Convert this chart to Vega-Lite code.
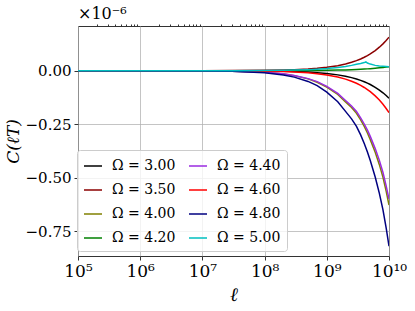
{
  "$schema": "https://vega.github.io/schema/vega-lite/v6.json",
  "width": 311,
  "height": 230,
  "autosize": {"type": "none"},
  "padding": {"left": 78, "top": 26, "right": 26, "bottom": 55},
  "title": {"text": "×10⁻⁶", "anchor": "start", "frame": "group", "offset": 2, "fontSize": 16, "fontWeight": "normal", "font": "DejaVu Serif", "color": "#000"},
  "data": {"values": [
    {"ell":1e5,"omega":"3.00","C":0},{"ell":1e7,"omega":"3.00","C":-0.0001},{"ell":3e7,"omega":"3.00","C":-0.0004},{"ell":1e8,"omega":"3.00","C":-0.0013},{"ell":2e8,"omega":"3.00","C":-0.0026},{"ell":3e8,"omega":"3.00","C":-0.0039},{"ell":5e8,"omega":"3.00","C":-0.0065},{"ell":7e8,"omega":"3.00","C":-0.009},{"ell":1e9,"omega":"3.00","C":-0.0129},{"ell":1.5e9,"omega":"3.00","C":-0.0194},{"ell":2e9,"omega":"3.00","C":-0.0258},{"ell":2.5e9,"omega":"3.00","C":-0.0323},{"ell":3e9,"omega":"3.00","C":-0.0387},{"ell":3.5e9,"omega":"3.00","C":-0.0452},{"ell":4e9,"omega":"3.00","C":-0.0516},{"ell":4.5e9,"omega":"3.00","C":-0.058},{"ell":5e9,"omega":"3.00","C":-0.0645},{"ell":6e9,"omega":"3.00","C":-0.0774},{"ell":7e9,"omega":"3.00","C":-0.0903},{"ell":8e9,"omega":"3.00","C":-0.1032},{"ell":9e9,"omega":"3.00","C":-0.1161},{"ell":1e10,"omega":"3.00","C":-0.129},
    {"ell":1e5,"omega":"3.50","C":0},{"ell":1e7,"omega":"3.50","C":0.0002},{"ell":3e7,"omega":"3.50","C":0.0005},{"ell":1e8,"omega":"3.50","C":0.0016},{"ell":2e8,"omega":"3.50","C":0.0031},{"ell":3e8,"omega":"3.50","C":0.0047},{"ell":5e8,"omega":"3.50","C":0.0079},{"ell":7e8,"omega":"3.50","C":0.011},{"ell":1e9,"omega":"3.50","C":0.0157},{"ell":1.5e9,"omega":"3.50","C":0.0236},{"ell":2e9,"omega":"3.50","C":0.0314},{"ell":2.5e9,"omega":"3.50","C":0.0393},{"ell":3e9,"omega":"3.50","C":0.0471},{"ell":3.5e9,"omega":"3.50","C":0.055},{"ell":4e9,"omega":"3.50","C":0.0628},{"ell":4.5e9,"omega":"3.50","C":0.0707},{"ell":5e9,"omega":"3.50","C":0.0785},{"ell":6e9,"omega":"3.50","C":0.0942},{"ell":7e9,"omega":"3.50","C":0.11},{"ell":8e9,"omega":"3.50","C":0.1256},{"ell":9e9,"omega":"3.50","C":0.1413},{"ell":1e10,"omega":"3.50","C":0.157},
    {"ell":1e5,"omega":"4.00","C":0},{"ell":1e7,"omega":"4.00","C":-0.0008},{"ell":3e7,"omega":"4.00","C":-0.0023},{"ell":1e8,"omega":"4.00","C":-0.0077},{"ell":2e8,"omega":"4.00","C":-0.0153},{"ell":3e8,"omega":"4.00","C":-0.023},{"ell":5e8,"omega":"4.00","C":-0.038},{"ell":7e8,"omega":"4.00","C":-0.054},{"ell":1e9,"omega":"4.00","C":-0.077},{"ell":1.5e9,"omega":"4.00","C":-0.111},{"ell":2e9,"omega":"4.00","C":-0.146},{"ell":2.5e9,"omega":"4.00","C":-0.172},{"ell":3e9,"omega":"4.00","C":-0.199},{"ell":3.5e9,"omega":"4.00","C":-0.23},{"ell":4e9,"omega":"4.00","C":-0.26},{"ell":4.5e9,"omega":"4.00","C":-0.291},{"ell":5e9,"omega":"4.00","C":-0.322},{"ell":6e9,"omega":"4.00","C":-0.381},{"ell":7e9,"omega":"4.00","C":-0.439},{"ell":8e9,"omega":"4.00","C":-0.498},{"ell":9e9,"omega":"4.00","C":-0.563},{"ell":1e10,"omega":"4.00","C":-0.628},
    {"ell":1e5,"omega":"4.20","C":0},{"ell":1e7,"omega":"4.20","C":0},{"ell":3e7,"omega":"4.20","C":0.0001},{"ell":1e8,"omega":"4.20","C":0.0002},{"ell":2e8,"omega":"4.20","C":0.0004},{"ell":3e8,"omega":"4.20","C":0.0006},{"ell":5e8,"omega":"4.20","C":0.001},{"ell":7e8,"omega":"4.20","C":0.0013},{"ell":1e9,"omega":"4.20","C":0.0019},{"ell":1.5e9,"omega":"4.20","C":0.0029},{"ell":2e9,"omega":"4.20","C":0.0038},{"ell":2.5e9,"omega":"4.20","C":0.0048},{"ell":3e9,"omega":"4.20","C":0.0057},{"ell":3.5e9,"omega":"4.20","C":0.0067},{"ell":4e9,"omega":"4.20","C":0.0076},{"ell":4.5e9,"omega":"4.20","C":0.0086},{"ell":5e9,"omega":"4.20","C":0.0095},{"ell":6e9,"omega":"4.20","C":0.0114},{"ell":7e9,"omega":"4.20","C":0.0133},{"ell":8e9,"omega":"4.20","C":0.0152},{"ell":9e9,"omega":"4.20","C":0.0171},{"ell":1e10,"omega":"4.20","C":0.019},
    {"ell":1e5,"omega":"4.40","C":0},{"ell":1e7,"omega":"4.40","C":-0.0007},{"ell":3e7,"omega":"4.40","C":-0.002},{"ell":1e8,"omega":"4.40","C":-0.0073},{"ell":2e8,"omega":"4.40","C":-0.0146},{"ell":3e8,"omega":"4.40","C":-0.022},{"ell":5e8,"omega":"4.40","C":-0.037},{"ell":7e8,"omega":"4.40","C":-0.051},{"ell":1e9,"omega":"4.40","C":-0.073},{"ell":1.5e9,"omega":"4.40","C":-0.106},{"ell":2e9,"omega":"4.40","C":-0.139},{"ell":2.5e9,"omega":"4.40","C":-0.165},{"ell":3e9,"omega":"4.40","C":-0.19},{"ell":3.5e9,"omega":"4.40","C":-0.22},{"ell":4e9,"omega":"4.40","C":-0.249},{"ell":4.5e9,"omega":"4.40","C":-0.278},{"ell":5e9,"omega":"4.40","C":-0.307},{"ell":6e9,"omega":"4.40","C":-0.364},{"ell":7e9,"omega":"4.40","C":-0.419},{"ell":8e9,"omega":"4.40","C":-0.476},{"ell":9e9,"omega":"4.40","C":-0.538},{"ell":1e10,"omega":"4.40","C":-0.6},
    {"ell":1e5,"omega":"4.60","C":0},{"ell":1e7,"omega":"4.60","C":-0.0002},{"ell":3e7,"omega":"4.60","C":-0.0006},{"ell":1e8,"omega":"4.60","C":-0.002},{"ell":2e8,"omega":"4.60","C":-0.0039},{"ell":3e8,"omega":"4.60","C":-0.0059},{"ell":5e8,"omega":"4.60","C":-0.0098},{"ell":7e8,"omega":"4.60","C":-0.0137},{"ell":1e9,"omega":"4.60","C":-0.0196},{"ell":1.5e9,"omega":"4.60","C":-0.0294},{"ell":2e9,"omega":"4.60","C":-0.0392},{"ell":2.5e9,"omega":"4.60","C":-0.049},{"ell":3e9,"omega":"4.60","C":-0.0588},{"ell":3.5e9,"omega":"4.60","C":-0.0686},{"ell":4e9,"omega":"4.60","C":-0.0784},{"ell":4.5e9,"omega":"4.60","C":-0.0882},{"ell":5e9,"omega":"4.60","C":-0.098},{"ell":6e9,"omega":"4.60","C":-0.1176},{"ell":7e9,"omega":"4.60","C":-0.1372},{"ell":8e9,"omega":"4.60","C":-0.1568},{"ell":9e9,"omega":"4.60","C":-0.1764},{"ell":1e10,"omega":"4.60","C":-0.196},
    {"ell":1e5,"omega":"4.80","C":0},{"ell":1e7,"omega":"4.80","C":-0.001},{"ell":3e7,"omega":"4.80","C":-0.003},{"ell":1e8,"omega":"4.80","C":-0.01},{"ell":2e8,"omega":"4.80","C":-0.02},{"ell":3e8,"omega":"4.80","C":-0.03},{"ell":5e8,"omega":"4.80","C":-0.05},{"ell":7e8,"omega":"4.80","C":-0.07},{"ell":1e9,"omega":"4.80","C":-0.1},{"ell":1.5e9,"omega":"4.80","C":-0.145},{"ell":2e9,"omega":"4.80","C":-0.19},{"ell":2.5e9,"omega":"4.80","C":-0.225},{"ell":3e9,"omega":"4.80","C":-0.26},{"ell":3.5e9,"omega":"4.80","C":-0.3},{"ell":4e9,"omega":"4.80","C":-0.34},{"ell":4.5e9,"omega":"4.80","C":-0.38},{"ell":5e9,"omega":"4.80","C":-0.42},{"ell":6e9,"omega":"4.80","C":-0.497},{"ell":7e9,"omega":"4.80","C":-0.573},{"ell":8e9,"omega":"4.80","C":-0.65},{"ell":9e9,"omega":"4.80","C":-0.735},{"ell":1e10,"omega":"4.80","C":-0.82},
    {"ell":1e5,"omega":"5.00","C":0},{"ell":1e7,"omega":"5.00","C":0.0001},{"ell":3e7,"omega":"5.00","C":0.0003},{"ell":1e8,"omega":"5.00","C":0.001},{"ell":2e8,"omega":"5.00","C":0.002},{"ell":3e8,"omega":"5.00","C":0.003},{"ell":5e8,"omega":"5.00","C":0.005},{"ell":7e8,"omega":"5.00","C":0.007},{"ell":1e9,"omega":"5.00","C":0.01},{"ell":1.5e9,"omega":"5.00","C":0.015},{"ell":2e9,"omega":"5.00","C":0.02},{"ell":2.5e9,"omega":"5.00","C":0.025},{"ell":3e9,"omega":"5.00","C":0.03},{"ell":3.5e9,"omega":"5.00","C":0.034},{"ell":4e9,"omega":"5.00","C":0.038},{"ell":4.25e9,"omega":"5.00","C":0.041},{"ell":4.5e9,"omega":"5.00","C":0.036},{"ell":5e9,"omega":"5.00","C":0.031},{"ell":6e9,"omega":"5.00","C":0.025},{"ell":7e9,"omega":"5.00","C":0.022},{"ell":8e9,"omega":"5.00","C":0.021},{"ell":9e9,"omega":"5.00","C":0.02},{"ell":1e10,"omega":"5.00","C":0.019}
  ]},
  "layer": [
    {
      "mark": {"type": "line", "strokeWidth": 1.5, "clip": true},
      "encoding": {
        "x": {"field": "ell", "type": "quantitative",
              "scale": {"type": "log", "domain": [1e5, 1e10], "nice": false},
              "axis": {"values": [1e5, 1e6, 1e7, 1e8, 1e9, 1e10], "labelExpr": "['10⁵','10⁶','10⁷','10⁸','10⁹','10¹⁰'][round(log(datum.value)/LN10)-5]", "grid": true, "title": "ℓ", "titleFontStyle": "italic", "titleFontSize": 19, "titlePadding": 6, "tickSize": 4, "labelPadding": 3, "labelFontSize": 17, "labelFlush": false, "labelOverlap": false}},
        "y": {"field": "C", "type": "quantitative",
              "scale": {"domain": [-0.866, 0.209], "nice": false, "zero": false},
              "axis": {"values": [-0.75, -0.5, -0.25, 0], "format": ".2f", "grid": true, "title": "C(ℓT)", "titleFontStyle": "italic", "titleFontSize": 17, "titlePadding": 3, "tickSize": 4, "labelPadding": 3, "labelFontSize": 15}},
        "color": {"field": "omega", "type": "nominal",
                  "scale": {"domain": ["3.00", "3.50", "4.00", "4.20", "4.40", "4.60", "4.80", "5.00"],
                            "range": ["#000000", "#8b0000", "#808000", "#008000", "#9a2be0", "#ff0000", "#000080", "#00bfbf"]},
                  "legend": {"orient": "none", "legendX": -1, "legendY": 124, "columns": 2, "title": null,
                             "labelExpr": "'Ω = ' + datum.label", "symbolType": "stroke", "symbolSize": 324, "symbolStrokeWidth": 1.5,
                             "labelFontSize": 14, "labelOffset": 9, "columnPadding": 10, "rowPadding": 7, "padding": 6,
                             "fillColor": "rgba(255,255,255,0.8)", "strokeColor": "#cccccc", "cornerRadius": 3}}
      }
    },
    {
      "mark": {"type": "rule", "strokeOpacity": 0},
      "encoding": {
        "x": {"field": "ell", "type": "quantitative",
              "axis": {"values": [2e5,3e5,4e5,5e5,6e5,7e5,8e5,9e5,2e6,3e6,4e6,5e6,6e6,7e6,8e6,9e6,2e7,3e7,4e7,5e7,6e7,7e7,8e7,9e7,2e8,3e8,4e8,5e8,6e8,7e8,8e8,9e8,2e9,3e9,4e9,5e9,6e9,7e9,8e9,9e9], "labels": false, "grid": false, "title": null, "tickSize": 2, "domain": false}}
      }
    }
  ],
  "resolve": {"axis": {"x": "independent"}},
  "config": {
    "font": "DejaVu Serif",
    "view": {"stroke": "#333333", "strokeWidth": 1},
    "axis": {"domain": false, "tickColor": "#333333", "labelColor": "#000000", "titleColor": "#000000", "titleFontWeight": "normal", "labelFont": "DejaVu Serif", "titleFont": "DejaVu Serif", "gridColor": "#b0b0b0", "gridOpacity": 0.75, "gridWidth": 1},
    "legend": {"labelColor": "#000000", "labelFont": "DejaVu Serif"}
  }
}
